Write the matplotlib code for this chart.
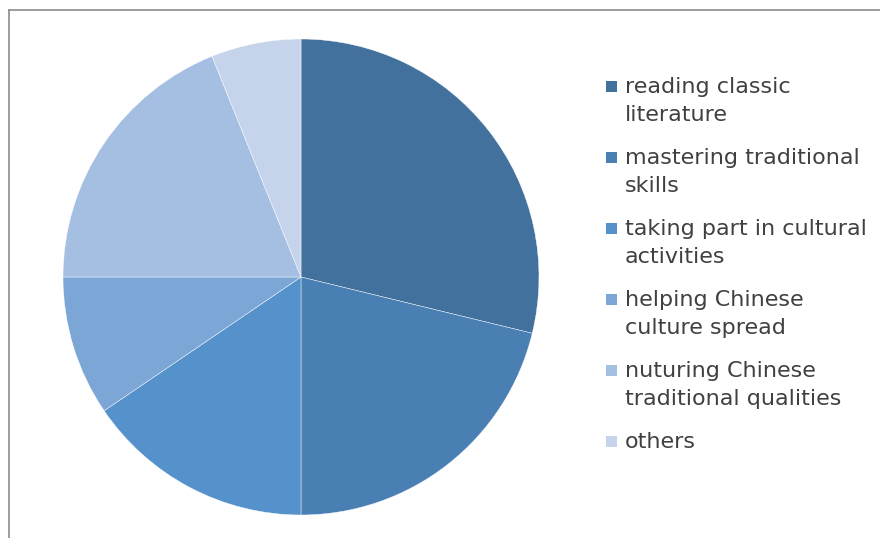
import matplotlib
matplotlib.use("Agg")
import matplotlib.pyplot as plt
from matplotlib.patches import Rectangle
from matplotlib.lines import Line2D

plt.rcParams['font.family'] = ['DejaVu Sans']

categories = ["reading classic\nliterature",
              "mastering traditional\nskills",
              "taking part in cultural\nactivities",
              "helping Chinese\nculture spread",
              "nuturing Chinese\ntraditional qualities",
              "others"]
values = [28.8, 21.2, 15.5, 9.5, 18.9, 6.1]
colors = ["#41719C", "#4A7FB4", "#5592CB", "#7BA6D6", "#A4BFE2", "#C5D4EA"]

W, H = 880, 538
fig = plt.figure(figsize=(W/100, H/100), dpi=100)

cx, cy, r = 301, 277, 238
ax = fig.add_axes([(cx - r)/W, (H - cy - r)/H, 2*r/W, 2*r/H])
ax.pie(values, colors=colors, startangle=90, counterclock=False, radius=1,
       wedgeprops=dict(edgecolor="white", linewidth=0.3))
ax.set_xlim(-1, 1)
ax.set_ylim(-1, 1)
ax.set_aspect('equal')
ax.axis('off')

# frame (left and top edges visible)
fig.add_artist(Line2D([9/W, 9/W], [0, 1 - 10/H], transform=fig.transFigure, color="#8C8C8C", lw=1.2))
fig.add_artist(Line2D([9/W, 1], [1 - 10/H, 1 - 10/H], transform=fig.transFigure, color="#8C8C8C", lw=1.2))

# legend
y0, step, lstep = 87, 71, 28
for i, (lab, col) in enumerate(zip(categories, colors)):
    y = y0 + i*step
    fig.add_artist(Rectangle((606/W, 1 - (y + 5)/H), 11/W, 11/H, transform=fig.transFigure,
                             facecolor=col, edgecolor="none"))
    for j, line in enumerate(lab.split("\n")):
        fig.text(625/W, 1 - (y + j*lstep)/H, line, fontsize=16, color="#404040",
                 va="center", ha="left")

fig.savefig("out.png", dpi=100)
